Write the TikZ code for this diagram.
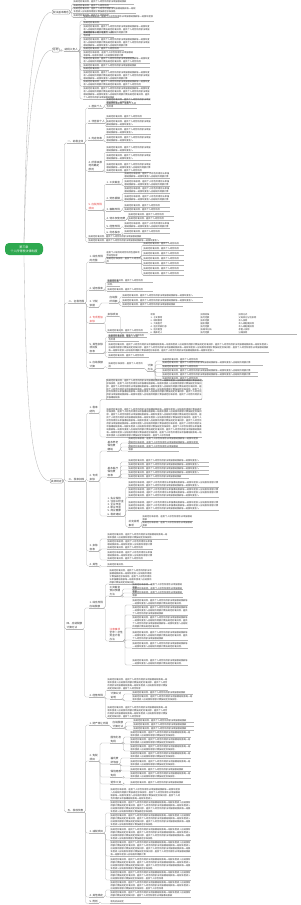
\documentclass[tikz,border=0pt]{standalone}
\usepackage{fontspec}
\setmainfont{Noto Sans CJK SC}
\XeTeXlinebreaklocale "zh"
\XeTeXlinebreakskip=0pt plus 0.5pt
\definecolor{mapgreen}{HTML}{2EA84F}
\definecolor{lngray}{HTML}{B4B4B4}
\definecolor{txtgray}{HTML}{333333}
\definecolor{mapred}{HTML}{E23B3B}
\newcommand\lbfont{\fontsize{2.6}{3.2}\selectfont}
\newcommand\lffont{\fontsize{2.2}{2.9}\selectfont}
\newcommand\mapfill[2]{%
  \pgfmathtruncatemacro\mapnp{max(1,round(#1*#2/20))}%
  \foreach\k in {1,...,\mapnp}{%
    \pgfmathtruncatemacro\mapm{mod(\k,5)}%
    \ifcase\mapm 应纳税所得额计算\or 按规定标准扣除，\or 居民个人综合所得\or 依法申报缴纳税款\or 每一纳税年度收入\fi}}
\newcommand\leaves[3]{%
  \foreach \y/\w/\n [count=\i] in {#3} {%
    \node[leaf=\w] (#1-\i) at (#2,\y) {\mapfill{\w}{\n}};
    \draw[conn] (#1.south east) to[elbow] (#1-\i.south west);}}
\begin{document}
\begin{tikzpicture}[x=1pt,y=-1pt,
    conn/.style={draw=lngray, line width=0.3pt, rounded corners=1.5pt},
    elbow/.style={to path={-- ++(1.5,0) |- (\tikztotarget)}},
    ul/.style={append after command={(\tikzlastnode.south west) edge[conn] (\tikzlastnode.south east)}},
    root/.style={fill=mapgreen, text=white, rounded corners=4pt, align=center, font=\fontsize{3}{3.8}\selectfont, minimum width=38pt, minimum height=12pt, inner sep=1pt},
    lvbox/.style={draw=gray!70, rounded corners=1pt, anchor=west, font=\lbfont, inner sep=1pt, text=txtgray},
    topic/.style={anchor=south west, font=\lbfont, inner sep=0.5pt, align=left, text=txtgray, ul},
    hot/.style={topic, text=mapred},
    leaf/.style={anchor=south west, text width=#1pt, font=\lffont, inner sep=0.4pt, align=left, text=txtgray, ul}
  ]
  \fill[white] (0,0) rectangle (300,905);
  \useasboundingbox (0,0) rectangle (300,905);

  \node[root] (R) at (24,249) {第三章\\个人所得税法律制度};
  \node[lvbox] (A) at (52,12) {税法基本概念};
  \node[lvbox] (B) at (52,50) {总则};
  \node[lvbox] (C) at (50,481) {具体规定};
  \draw[conn] (R.north) .. controls (26,100) and (32,12) .. (A.west);
  \draw[conn] (R.north) .. controls (27,120) and (34,50) .. (B.west);
  \draw[conn] (R.south) .. controls (26,420) and (32,481) .. (C.west);

  \foreach \y/\w/\n [count=\i] in {3.8/60/1, 7.6/40/1, 13.5/62/2, 17.3/45/1} {
    \node[leaf=\w] (A-\i) at (73,\y) {\mapfill{\w}{\n}};
    \draw[conn] (A.east) to[elbow] (A-\i.south west);
  }

  \node[topic] (B0) at (64,51) {纳税义务人};
  \draw[conn] (B.east) to[elbow] (B0.south west);
  \leaves{B0}{83}{21/70/1, 24.5/25/1, 34/66/3, 37.5/30/1, 47/66/3, 50.5/40/1, 57/50/2, 63.5/66/2, 67/66/1, 70.5/25/1, 80/66/3, 86.5/66/2, 99/66/4}

  \node[topic] (C1) at (67,143) {一、纳税主体};
  \node[topic] (C2) at (68,303) {二、征税范围};
  \node[topic] (C3) at (68,481) {三、税率扣除};
  \node[topic] (C4) at (66,629) {四、应纳税额\\计算方法};
  \node[topic] (C5) at (67,812) {五、税收优惠};
  \foreach \n in {C1,C2,C3,C4,C5} \draw[conn] (C.east) to[elbow] (\n.south west);

  \node[topic] (D11) at (88,108) {1. 居民个人};
  \node[topic] (D12) at (88,123) {2. 非居民个人};
  \node[topic] (D13) at (88,140) {3. 判定标准};
  \node[topic] (D14) at (88,171) {4. 所得来源\\地的确定\\原则};
  \node[hot] (D15) at (88,210) {5. 应税所得\\项目};
  \node[leaf=62] (D16) at (88,238) {\mapfill{62}{1}};
  \node[leaf=80] (D17) at (88,242) {\mapfill{80}{1}};
  \foreach \n in {D11,D12,D13,D14,D15,D16,D17} \draw[conn] (C1.south east) to[elbow] (\n.south west);
  \leaves{D11}{106}{104/44/2, 108/30/1}
  \leaves{D12}{106}{118/44/1, 126/44/2}
  \leaves{D13}{106}{134/44/2, 142/44/2}
  \leaves{D14}{106}{152/44/2, 160/44/2, 172/44/3}

  \node[topic] (E1) at (106,184) {1. 工资薪金};
  \node[topic] (E2) at (106,200) {2. 劳务报酬};
  \node[topic] (E3) at (106,211) {3. 稿酬所得};
  \node[topic] (E4) at (106,220) {4. 特许权使用费};
  \node[topic] (E5) at (106,228) {5. 经营所得};
  \node[topic] (E6) at (106,234) {6. 利息股息};
  \foreach \n in {E1,E2,E3,E4,E5,E6} \draw[conn] (D15.south east) to[elbow] (\n.south west);
  \leaves{E1}{124}{178/45/2, 186/45/2}
  \leaves{E2}{124}{193/45/2, 201/45/2}
  \leaves{E3}{124}{207/45/1, 211/45/1}
  \leaves{E4}{128}{216/45/1, 220/45/1}
  \leaves{E5}{124}{228/45/2}
  \leaves{E6}{124}{233.5/45/1}

  \node[topic] (D21) at (89,262) {1. 综合所得\\的范围};
  \node[topic] (D22) at (89,290) {2. 适用税率};
  \node[topic] (D23) at (89,307) {3. 计税\\依据};
  \node[hot] (D24) at (89,323) {4. 专项附加\\扣除};
  \node[topic] (D25) at (89,353) {5. 其他扣除\\项目及\\标准};
  \node[topic] (D26) at (89,368) {6. 应纳税额\\计算};
  \foreach \n in {D21,D22,D23,D24,D25,D26} \draw[conn] (C2.south east) to[elbow] (\n.south west);

  \node[leaf=33] (E21) at (106,257) {居民个人取得的综合所得包括四项劳动性所得};
  \node[leaf=35] (E22) at (106,263) {\mapfill{35}{1}};
  \foreach \n in {E21,E22} \draw[conn] (D21.south east) to[elbow] (\n.south west);
  \leaves{E21}{143}{245/40/1, 250/40/1, 255/40/1, 260/40/1, 265/40/1, 270/40/1, 275/40/1}
  \leaves{D22}{107}{282/45/1, 286.5/12/1, 291/45/1}
  \node[topic] (E23) at (109,303) {应纳税\\所得额};
  \draw[conn] (D23.south east) to[elbow] (E23.south west);
  \leaves{E23}{122}{297/80/1, 302/80/1, 306/60/1}

  \node[topic] (E24) at (107,316) {扣除项目};
  \node[leaf=40] (E24b) at (107,332) {\mapfill{40}{1}};
  \foreach \n in {E24,E24b} \draw[conn] (D24.south east) to[elbow] (\n.south west);
  \node[leaf=48] (T1) at (150,334) {项目\\1. 子女教育\\2. 继续教育\\3. 大病医疗\\4. 住房贷款利息\\5. 住房租金\\6. 赡养老人};
  \node[leaf=36] (T2) at (200,334) {扣除标准\\按月定额\\按年定额\\据实限额\\按月定额\\按城市分档\\按月定额};
  \node[leaf=58] (T3) at (238,334) {扣除方式\\父母双方分别扣除\\本人扣除\\本人或配偶扣除\\本人或配偶扣除\\承租人扣除\\分摊扣除};
  \draw[conn] (E24.south east) to[elbow] (T1.south west);
  \draw[conn] (T1.south east) -- (T2.south west);
  \draw[conn] (T2.south east) -- (T3.south west);

  \leaves{D25}{108}{337/38/1, 341/30/1, 352/160/3, 357/40/1}
  \node[leaf=35] (E26) at (108,368) {\mapfill{35}{1}};
  \node[topic] (F26) at (147,371) {计算\\方法};
  \draw[conn] (D26.south east) to[elbow] (E26.south west);
  \draw[conn] (E26.south east) to[elbow] (F26.south west);
  \leaves{F26}{162}{361/40/1, 364.8/100/1, 368.6/45/1, 372.4/95/1, 376.2/95/1, 380/40/1}

  \node[topic] (D31) at (89,413) {1. 税率\\结构};
  \node[topic] (D32) at (89,481) {2. 专项\\扣除};
  \node[topic] (D33) at (89,551) {3. 扣除\\标准};
  \node[topic] (D34) at (89,566) {4. 其他};
  \foreach \n in {D31,D32,D33,D34} \draw[conn] (C3.south east) to[elbow] (\n.south west);
  \node[leaf=95, draw=lngray, rounded corners=1pt] (N1) at (106,399.5) {\mapfill{95}{7}};
  \node[leaf=95] (N2) at (106,437) {\mapfill{95}{11}};
  \foreach \n in {N1,N2} \draw[conn] (D31.south east) to[elbow] (\n.south west);

  \node[topic] (E31) at (107,451) {基本养老\\保险费\\缴纳};
  \node[topic] (E32) at (107,477) {基本医疗\\保险费\\标准};
  \node[topic] (E33) at (107,516) {1. 失业保险\\2. 住房公积金\\3. 企业年金\\4. 职业年金\\5. 商业健康\\6. 税收递延};
  \foreach \n in {E31,E32,E33} \draw[conn] (D32.south east) to[elbow] (\n.south west);
  \leaves{E31}{128}{443/70/1, 447/70/1, 451/50/1}
  \leaves{E32}{128}{462/80/1, 466/80/1, 470/80/1, 474/80/1, 478/60/1}
  \leaves{E33}{128}{487/90/2, 497/90/3, 510/90/3}
  \node[topic] (E34) at (128,527) {补充说明\\事项};
  \draw[conn] (E33.south east) to[elbow] (E34.south west);
  \leaves{E34}{142}{521/50/1, 527/50/1}
  \leaves{D33}{107}{539/60/2, 549/45/3, 560/45/3}
  \leaves{D34}{107}{566.5/25/1}

  \node[topic] (D41) at (89,608) {1. 综合所得\\应纳税额};
  \node[topic] (D42) at (89,697) {2. 经营所得};
  \foreach \n in {D41,D42} \draw[conn] (C4.south east) to[elbow] (\n.south west);
  \node[leaf=42] (E41) at (109,584) {\mapfill{42}{5}};
  \node[topic] (E42) at (109,596) {工资薪金\\预扣预缴\\方法};
  \node[topic] (E43) at (109,641) {{\color{mapred}注意事项}\\全年一次性\\奖金计税\\办法};
  \foreach \n in {E41,E42,E43} \draw[conn] (D41.south east) to[elbow] (\n.south west);
  \leaves{E42}{132}{589/50/1, 593/50/1, 597/50/1}
  \leaves{E43}{132}{605/55/2, 615/55/3, 628/55/4, 640/55/3, 648/55/2, 665/55/2}
  \node[leaf=60] (E44) at (107,690) {\mapfill{60}{4}};
  \node[topic] (E45) at (110,699) {计算公式\\说明};
  \node[leaf=60] (E46) at (107,718) {\mapfill{60}{4}};
  \foreach \n in {E44,E45,E46} \draw[conn] (D42.south east) to[elbow] (\n.south west);
  \leaves{E45}{132}{694/60/1, 701/60/2}

  \node[topic] (D51) at (89,725) {1. 财产转让所得};
  \node[topic] (D52) at (89,761) {2. 免税\\项目};
  \node[topic] (D53) at (89,833) {3. 减税项目};
  \node[topic] (D54) at (89,897) {4. 其他规定};
  \node[topic] (D55) at (89,903.5) {5. 附则};
  \foreach \n in {D51,D52,D53,D54,D55} \draw[conn] (C5.south east) to[elbow] (\n.south west);
  \node[topic] (E51) at (112,728) {应纳税额\\计算方法};
  \draw[conn] (D51.south east) to[elbow] (E51.south west);
  \leaves{E51}{133}{722/60/1, 726/60/1, 730/60/1}
  \node[topic] (E52) at (110,743) {国债利息\\免税};
  \node[topic] (E53) at (110,764) {福利费\\抚恤金};
  \node[topic] (E54) at (110,777) {保险赔款\\免税};
  \node[topic] (E55) at (110,784) {退休工资};
  \node[leaf=70] (E56) at (110,800) {\mapfill{70}{4}};
  \foreach \n in {E52,E53,E54,E55,E56} \draw[conn] (D52.south east) to[elbow] (\n.south west);
  \leaves{E52}{130}{737/60/2, 744/60/2, 751/60/2}
  \leaves{E53}{130}{758/60/2, 766/60/2, 771/60/1}
  \leaves{E54}{130}{778/60/2}
  \leaves{E55}{130}{784.5/60/1}
  \leaves{D53}{110}{813/80/4, 826/80/4, 840/80/4, 856/80/5, 870/80/4, 880/80/3}
  \leaves{D54}{110}{890/80/3, 897/80/2}
  \node[leaf=30] (E57) at (110,903.5) {税务机关规定};
  \draw[conn] (D55.south east) to[elbow] (E57.south west);
\end{tikzpicture}
\end{document}
